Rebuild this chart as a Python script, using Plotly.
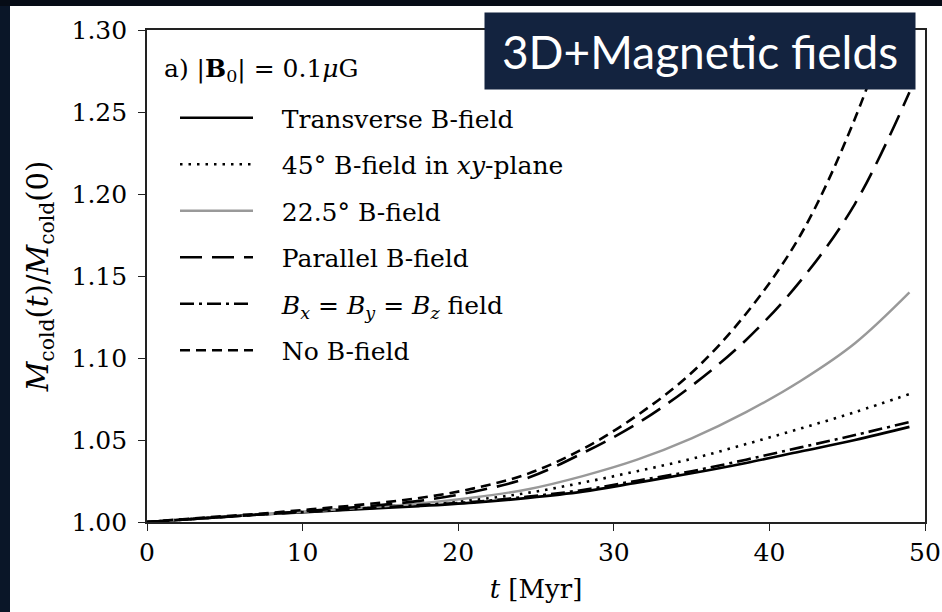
import plotly.graph_objects as go

# ---- data ----
t_myr = [0, 3.5, 7, 10.5, 14, 17.5, 21, 24.5, 28, 31.5, 35, 38.5, 42, 45.5, 49]

transverse = [1.000, 1.0022, 1.0044, 1.0062, 1.0080, 1.0097, 1.0118, 1.0147, 1.0185, 1.0240, 1.0297, 1.0360, 1.0430, 1.0500, 1.0580]
deg45_xy   = [1.000, 1.0022, 1.0044, 1.0066, 1.0088, 1.0110, 1.0135, 1.0178, 1.0240, 1.0310, 1.0385, 1.0475, 1.0570, 1.0670, 1.0780]
deg22_5    = [1.000, 1.0022, 1.0044, 1.0066, 1.0088, 1.0113, 1.0149, 1.0200, 1.0280, 1.0380, 1.0510, 1.0670, 1.0860, 1.1090, 1.1400]
parallel   = [1.000, 1.0022, 1.0044, 1.0069, 1.0095, 1.0129, 1.0185, 1.0270, 1.0420, 1.0600, 1.0830, 1.1110, 1.1470, 1.1940, 1.2620]
bxyz_equal = [1.000, 1.0022, 1.0044, 1.0063, 1.0083, 1.0103, 1.0123, 1.0155, 1.0195, 1.0252, 1.0310, 1.0380, 1.0455, 1.0530, 1.0610]
no_bfield  = [1.000, 1.0026, 1.0049, 1.0077, 1.0108, 1.0146, 1.0205, 1.0295, 1.0445, 1.0650, 1.0910, 1.1270, 1.1750, 1.2460, 1.3400]

series_names = [
    "Transverse B-field",
    "45° B-field in <i>xy</i>-plane",
    "22.5° B-field",
    "Parallel B-field",
    "<i>B<sub>x</sub></i> = <i>B<sub>y</sub></i> = <i>B<sub>z</sub></i> field",
    "No B-field",
]
series_values = [transverse, deg45_xy, deg22_5, parallel, bxyz_equal, no_bfield]
series_styles = [
    dict(color="#000000", width=2.6, dash="solid"),
    dict(color="#000000", width=2.6, dash="2.5px,6px"),
    dict(color="#999999", width=2.4, dash="solid"),
    dict(color="#000000", width=2.6, dash="22px,10px"),
    dict(color="#000000", width=2.6, dash="14px,5px,3px,5px"),
    dict(color="#000000", width=2.6, dash="10px,6px"),
]

x_ticks = [0, 10, 20, 30, 40, 50]
y_ticks = [1.00, 1.05, 1.10, 1.15, 1.20, 1.25, 1.30]

SERIF = "DejaVu Serif"
FS = 25
PAD = "\u00a0\u00a0\u00a0"  # gap between legend line sample and label
DARK = "#0a1628"

fig = go.Figure()
for i, (name, vals, st) in enumerate(zip(series_names, series_values, series_styles)):
    fig.add_trace(go.Scatter(
        x=t_myr, y=vals, mode="lines", name=PAD + name,
        line=dict(color=st["color"], width=st["width"], dash=st["dash"], shape="spline", smoothing=1.0),
        legendgroup=f"g{i}",
    ))

# plot area: l=147, r=925, t=30, b=522 in a 942x612 page
L, R, T, B = 147, 17, 30, 90
W, H = 942, 612
pw, ph = W - L - R, H - T - B

def px_x(p):
    return (p - L) / pw

def px_y(p):
    return (H - B - p) / ph

# dark frame on left and top
fig.add_shape(type="rect", xref="paper", yref="paper", layer="below",
              x0=px_x(-20), x1=px_x(10), y0=px_y(H + 20), y1=px_y(-20),
              fillcolor=DARK, line=dict(width=0))
fig.add_shape(type="rect", xref="paper", yref="paper", layer="below",
              x0=px_x(-20), x1=px_x(W + 20), y0=px_y(6), y1=px_y(-20),
              fillcolor="#060c16", line=dict(width=0))

fig.add_annotation(
    text="3D+Magnetic fields", xref="paper", yref="paper",
    x=px_x(700), y=px_y(51), xanchor="center", yanchor="middle",
    showarrow=False, bgcolor="#13233f", width=422, height=68, borderpad=4,
    font=dict(family="Lato", size=46, color="white"),
)

fig.add_annotation(
    text="a) |<b>B</b><sub>0</sub>| = 0.1<i>μ</i>G", xref="paper", yref="paper",
    x=px_x(162), y=px_y(70), xanchor="left", yanchor="middle", showarrow=False,
    font=dict(family=SERIF, size=FS, color="black"),
)

axis_common = dict(
    showgrid=False, zeroline=False, showline=True, linecolor="#222222", linewidth=1.6,
    mirror=True, ticks="outside", ticklen=7, tickwidth=1.4, tickcolor="#222222",
    tickfont=dict(family=SERIF, size=FS, color="black"), automargin=False,
)

fig.update_layout(
    width=W, height=H,
    margin=dict(l=L, r=R, t=T, b=B),
    paper_bgcolor="white",
    plot_bgcolor="white",
    xaxis=dict(range=[0, 50], tickvals=x_ticks, ticktext=[str(v) for v in x_ticks],
               title=dict(text="<i>t</i> [Myr]", font=dict(family=SERIF, size=FS + 1, color="black"), standoff=14),
               **axis_common),
    yaxis=dict(range=[1.0, 1.30], tickvals=y_ticks, ticktext=[f"{v:.2f}" for v in y_ticks],
               title=dict(text="<i>M</i><sub>cold</sub>(<i>t</i>)/<i>M</i><sub>cold</sub>(0)",
                          font=dict(family=SERIF, size=29, color="black"), standoff=14),
               ticklabelstandoff=6,
               **axis_common),
    legend=dict(
        x=px_x(175), y=px_y(95), xanchor="left", yanchor="top",
        bgcolor="rgba(0,0,0,0)", borderwidth=0,
        font=dict(family=SERIF, size=FS, color="black"),
        traceorder="grouped", tracegroupgap=11, itemwidth=73,
    ),
    showlegend=True,
)

fig.write_html(
    "out.html",
    post_script="document.documentElement.style.overflow='hidden';document.body.style.overflow='hidden';document.body.style.margin='0';",
)
